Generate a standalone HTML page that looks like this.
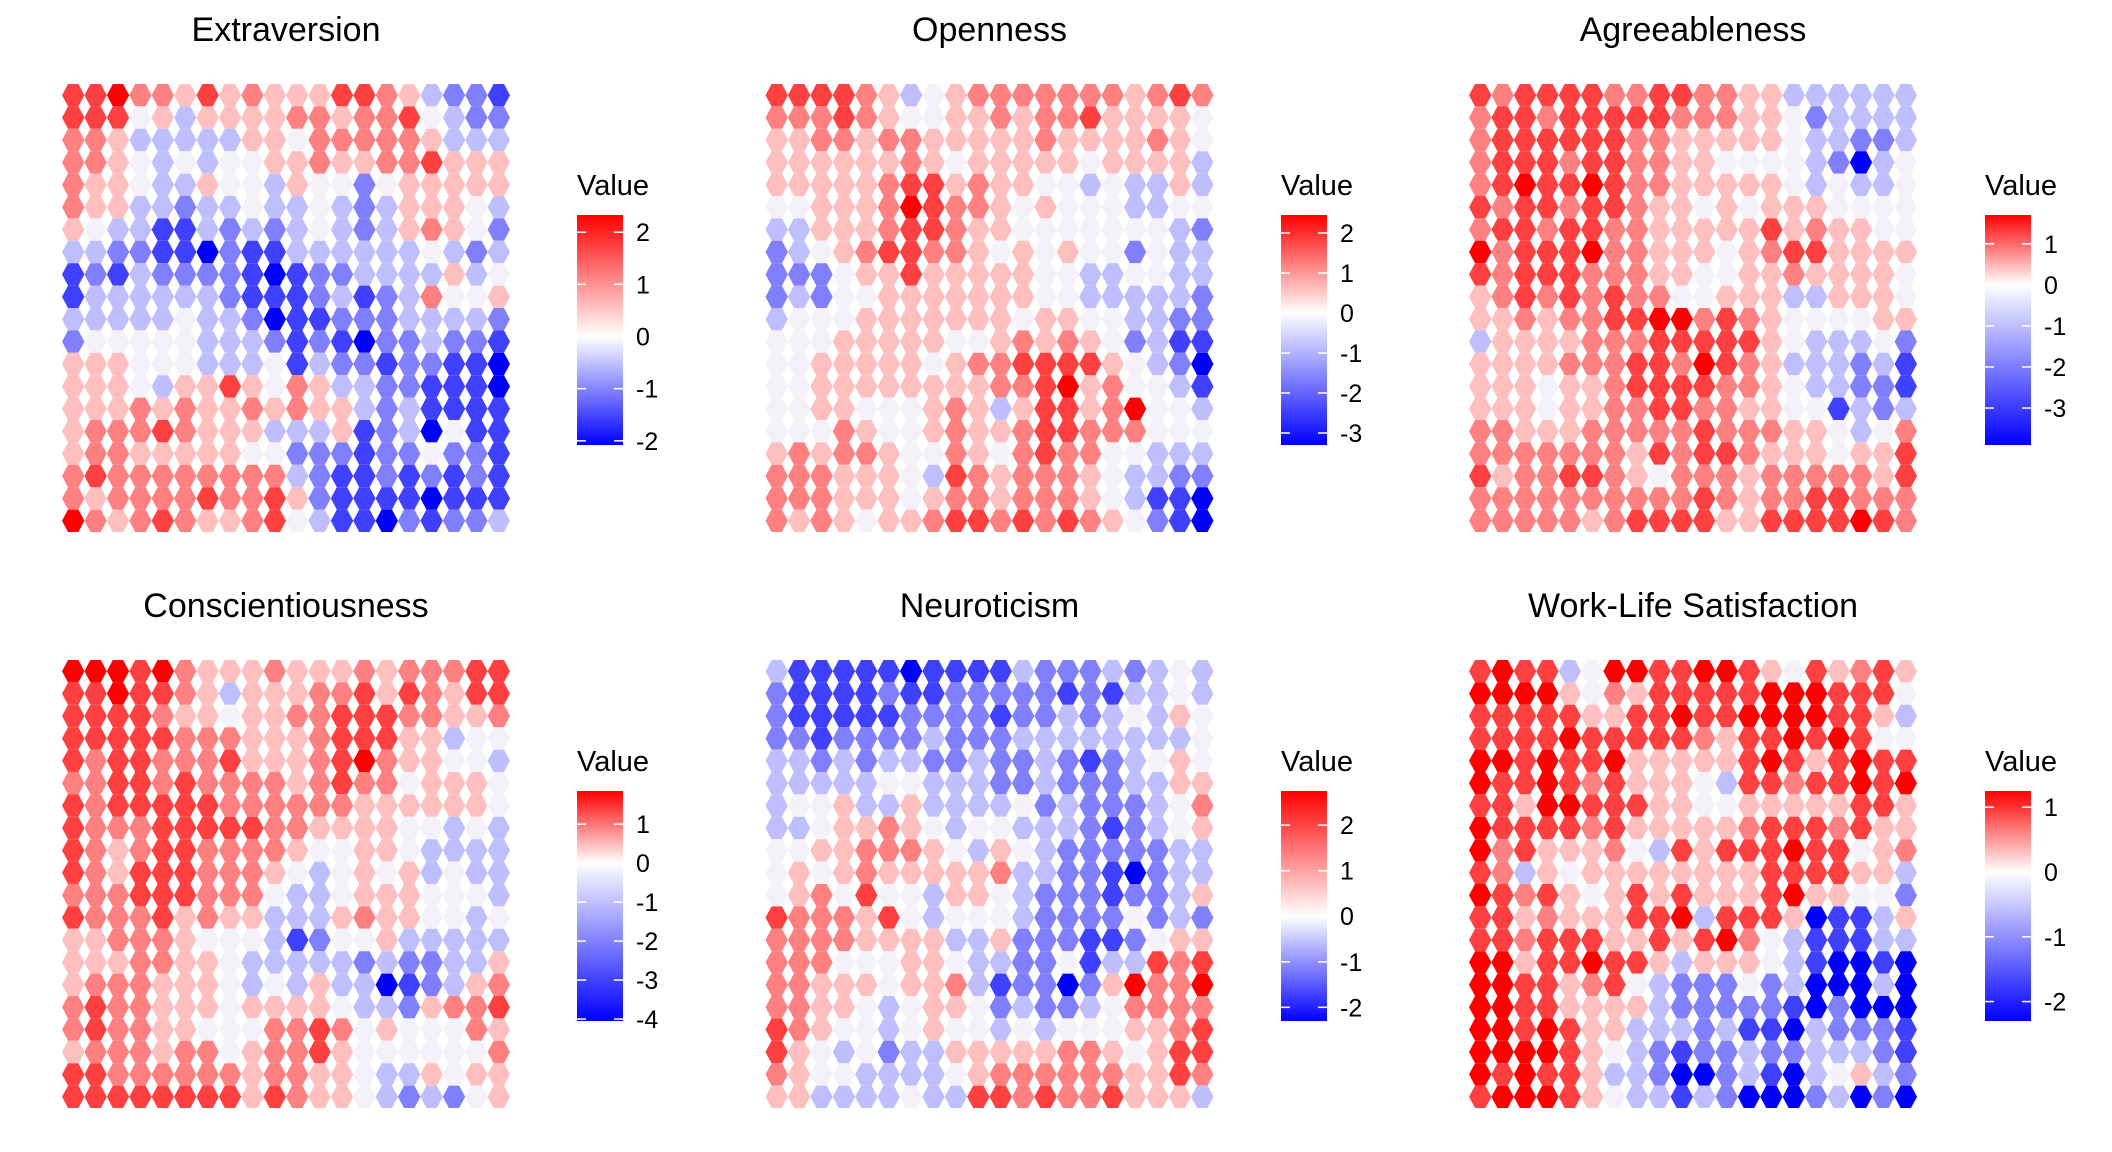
<!DOCTYPE html>
<html><head><meta charset="utf-8">
<style>
html,body{margin:0;padding:0;background:#fff;}
svg{display:block;font-family:"Liberation Sans",Arial,sans-serif;}
</style></head>
<body>
<svg id="chart" width="2112" height="1152" viewBox="0 0 2112 1152" xmlns="http://www.w3.org/2000/svg"></svg>
<script>
// Panel titles
const titles = ["Extraversion","Openness","Agreeableness","Conscientiousness","Neuroticism","Work-Life Satisfaction"];
// Legend tick labels per panel (top to bottom)
const tickLabels = [
  ["2","1","0","-1","-2"],
  ["2","1","0","-1","-2","-3"],
  ["1","0","-1","-2","-3"],
  ["1","0","-1","-2","-3","-4"],
  ["2","1","0","-1","-2"],
  ["1","0","-1","-2"]
];
// Legend value ranges [min,max] per panel
const legendMin = [-2.08, -3.3, -3.9, -4.05, -2.3, -2.3];
const legendMax = [2.33, 2.45, 1.7, 1.85, 2.75, 1.25];
// Cell levels (0=deep blue, 4=near white, 8=deep red), 20 rows x 20 cols per panel
const extraversion = [
"77866575655577653221","77745355556656674322","66533333554666665333","66543434455655667555",
"65543354435442455555","65533233433432355543","54331132323432356542","33221102113333334323",
"12132222101223333534","13333332111231236445","33333433201122233332","24444433321210223221",
"55544433341322122110","55543557546533221110","55565655656553231111","56667655533351230411",
"56655555442221224221","67666666663211212121","65666676675211110111","86567655674311021223"];
const openness = [
"77776534566666665676","66676544556566755554","55665665555565555654","55555565455555455553",
"55555677565544343353","44555687665454443344","33555677655444444432","23456776654545442433",
"22245575555544334433","23244555555544333332","34445555555455443322","44455555445656542311",
"44555554566777754320","44555555556678564431","44554445653577568443","44465445655677666444",
"56566544654676644333","66655543765666543322","66655545665666543110","65654556776767654210"];
const agreeableness = [
"76777766776655333333","67767777766655423333","67777776655555433223","67776776655444432034",
"67877876655555434334","76776776554545554444","67767766555557565544","86777866555456775555",
"76777666554455655554","56767676644555335554","55656677886765444455","35555666777775433342",
"55556667768765333231","55545567777665433221","55545566776655441323","66555666667666554346",
"66666665767765554557","75667765466656666657","66666666667656677666","66666567777557777876"];
const conscientiousness = [
"88878655565556566677","77877653555667576577","77776554556677766556","77777666555677755344",
"76776667555678655443","66776766665676645554","76777776666665555554","76667777766555544343",
"76567766665445543333","76577766654345453433","66677766643345554443","76667565533356554434",
"55666544431244533333","55566554333332322335","56665554343533012356","67665554555543325667",
"67665544466764544465","56665664566754444446","77666666566554335455","77777777576554323245"];
const neuroticism = [
"31111101111322232343","21111211222221213343","21111122221223234354","22122223222333333334",
"33232332232232123454","33333443332232223355","34453353333423222346","33455654344333212345",
"44556665435432222233","45456555556332210233","45647443554322212235","76665743444322224232",
"66665555335222112455","66644455433224133767","66555455631220258668","66554345542322346666",
"76544345443434445567","75434233555556654577","65443333456666665576","55333343377676675553"];
const workLife = [
"78773488778875475675","88885465777778887774","77777557787788887753","77778777776577878744",
"88787785555578757877","87787675554377677878","77588777554455555775","87777675555567776755",
"86755564375777877456","76354555555557777553","87675457575557855442","77565557783777501135",
"77677755757864311133","88577877535554310010","88775674322242300030","88775555322222102000",
"88787553332311032221","88887543212232233321","87877533200231034532","78887543313200023020"];
const panelData = [extraversion, openness, agreeableness, conscientiousness, neuroticism, workLife];

const svg = document.getElementById('chart');
const NS = 'http://www.w3.org/2000/svg';
const gridX = [62, 765.5, 1469], gridY = [84, 660];
const legX = [577, 1281, 1985], legTop = [215, 791], legH = 230, legW = 46;
const cell = 22.4;
function colorOf(l){
  if (l === 4) return '#f5f1f8';
  if (l > 4){ const t=(l-4)/4; const g=Math.round(255*(1-t)); return `rgb(255,${g},${g})`; }
  const t=(4-l)/4; const g=Math.round(255*(1-t)); return `rgb(${g},${g},255)`;
}
function mk(tag, attrs){ const e=document.createElementNS(NS,tag); for(const k in attrs) e.setAttribute(k,attrs[k]); return e; }

const defs = mk('defs',{});
svg.appendChild(defs);

panelData.forEach((rows, p) => {
  const col = p % 3, row = Math.floor(p / 3);
  const g = mk('g', {});
  
  
  svg.appendChild(g);
  const x0 = gridX[col], y0 = gridY[row];
  const t = mk('text', {x: x0 + 224, y: y0 - 43, 'font-size': 34, 'text-anchor': 'middle', fill: '#000'});
  
  
  t.textContent = titles[p];
  g.appendChild(t);
  rows.forEach((str, r) => {
    for (let c = 0; c < str.length; c++) {
      const lv = +str[c];
      const cx = x0 + cell * c + cell / 2, cy = y0 + cell * r + cell / 2;
      const h = 11.2, f = 5.2;
      const pts = [[cx-h,cy],[cx-f,cy-h],[cx+f,cy-h],[cx+h,cy],[cx+f,cy+h],[cx-f,cy+h]].map(q=>q.join(',')).join(' ');
      const poly = mk('polygon', {points: pts, fill: colorOf(lv)});
      
      
      g.appendChild(poly);
    }
  });
  const lx = legX[col], lt = legTop[row];
  const lgG = mk('g', {});
  
  
  g.appendChild(lgG);
  const lt2 = mk('text', {x: lx, y: lt - 20, 'font-size': 29, fill: '#000'});
  
  
  lt2.textContent = 'Value';
  lgG.appendChild(lt2);
  const mn = legendMin[p], mx = legendMax[p];
  const lgId = 'lg' + p;
  const gr = mk('linearGradient', {id: lgId, x1: 0, y1: 1, x2: 0, y2: 0});
  const z = (0 - mn) / (mx - mn);
  [[0,'#0000ff'],[z,'#ffffff'],[1,'#ff0000']].forEach(([o,c])=>gr.appendChild(mk('stop',{offset:o,'stop-color':c})));
  defs.appendChild(gr);
  const bar = mk('rect', {x: lx, y: lt, width: legW, height: legH, fill: `url(#${lgId})`});
  
  
  lgG.appendChild(bar);
  tickLabels[p].forEach(lab => {
    const v = +lab;
    const y = lt + legH * (mx - v) / (mx - mn);
    lgG.appendChild(mk('line', {x1: lx, x2: lx + 9, y1: y, y2: y, stroke: '#fff', 'stroke-width': 1.5}));
    lgG.appendChild(mk('line', {x1: lx + legW - 9, x2: lx + legW, y1: y, y2: y, stroke: '#fff', 'stroke-width': 1.5}));
    const tx = mk('text', {x: lx + 59, y: y + 9, 'font-size': 25, fill: '#000'});
    
    
    tx.textContent = lab;
    lgG.appendChild(tx);
  });
});
</script>
</body></html>
